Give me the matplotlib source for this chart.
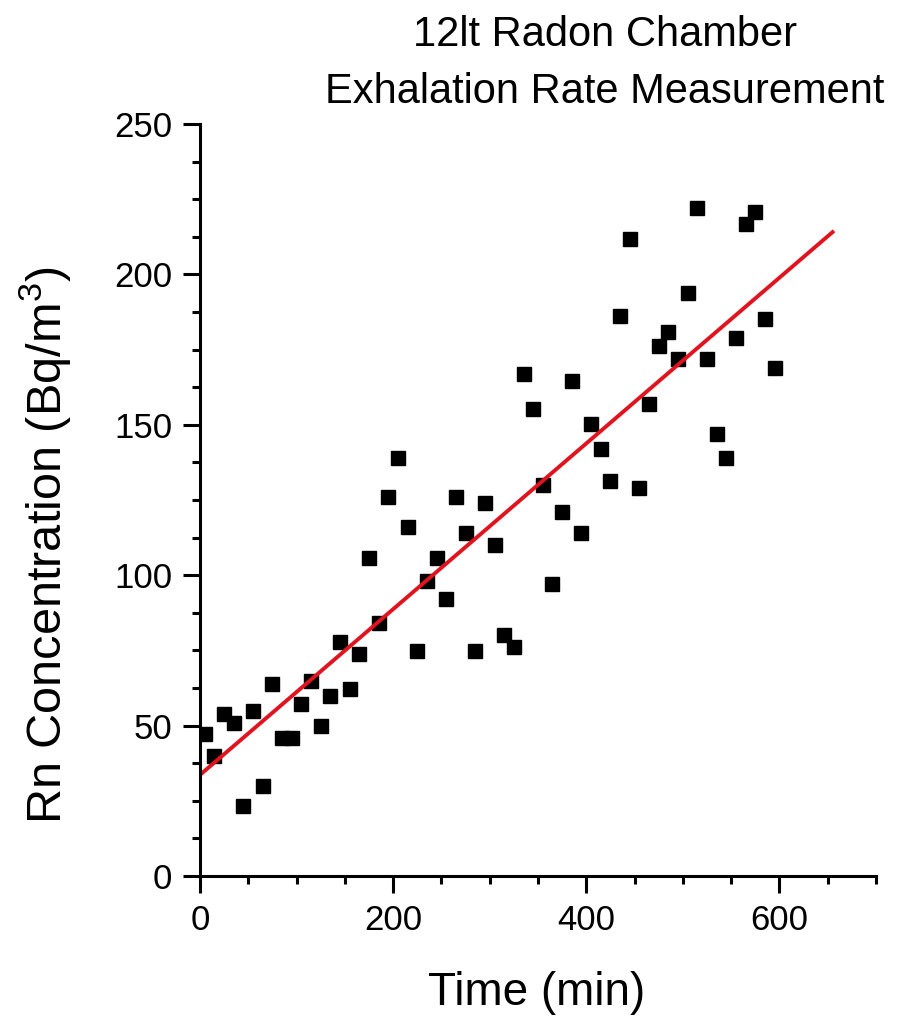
import matplotlib
matplotlib.use("Agg")
import matplotlib.pyplot as plt
from matplotlib.ticker import MultipleLocator

plt.rcParams['font.family'] = ['Liberation Sans', 'DejaVu Sans']
plt.rcParams['mathtext.fontset'] = 'custom'
plt.rcParams['mathtext.rm'] = 'Liberation Sans'
plt.rcParams['mathtext.it'] = 'Liberation Sans'

# measured data (min, Bq/m3)
time_min = [5, 15, 25, 35, 45, 55, 65, 75, 85, 95,
            105, 115, 125, 135, 145, 155, 165, 175, 185, 195,
            205, 215, 225, 235, 245, 255, 265, 275, 285, 295,
            305, 315, 325, 335, 345, 355, 365, 375, 385, 395,
            405, 415, 425, 435, 445, 455, 465, 475, 485, 495,
            505, 515, 525, 535, 545, 555, 565, 575, 585, 595]
rn_conc = [47.2, 39.9, 53.9, 51.0, 23.3, 55.0, 30.0, 63.8, 46.0, 46.0,
           57.1, 64.9, 50.0, 59.8, 77.8, 62.1, 73.8, 105.8, 84.0, 126.1,
           139.1, 116.1, 74.9, 98.0, 105.8, 92.0, 126.1, 113.9, 74.9, 123.9,
           110.1, 80.1, 76.0, 166.9, 155.3, 130.0, 97.0, 120.9, 164.6, 113.9,
           150.3, 142.0, 131.3, 186.2, 211.8, 129.1, 156.9, 176.1, 181.0, 172.0,
           193.9, 222.1, 172.0, 146.9, 139.1, 178.8, 216.9, 220.8, 185.2, 169.0]

# linear fit shown in red
fit_intercept = 33.6
fit_slope = 0.2755
fit_range = [0, 655]

fig = plt.figure(figsize=(9.09, 10.18), dpi=100)
ax = fig.add_axes([0.22, 0.1395, 0.7437, 0.7387])

ax.plot(time_min, rn_conc, 's', color='black', markersize=10, linestyle='none')
fit_y = [fit_intercept + fit_slope * t for t in fit_range]
ax.plot(fit_range, fit_y, color='#e0141e', lw=2.8)

ax.set_xlim(0, 700)
ax.set_ylim(0, 250)
ax.xaxis.set_major_locator(MultipleLocator(200))
ax.xaxis.set_minor_locator(MultipleLocator(50))
ax.yaxis.set_major_locator(MultipleLocator(50))
ax.yaxis.set_minor_locator(MultipleLocator(12.5))

for side in ['top', 'right']:
    ax.spines[side].set_visible(False)
for side in ['left', 'bottom']:
    ax.spines[side].set_linewidth(2.2)

ax.tick_params(which='major', direction='out', length=12, width=2.2, labelsize=25, pad=8)
ax.tick_params(which='minor', direction='out', length=6, width=2.2)

fig.text(605 / 909, 1 - 35 / 1018, '12lt Radon Chamber', ha='center', va='center', fontsize=30)
fig.text(605 / 909, 1 - 92 / 1018, 'Exhalation Rate Measurement', ha='center', va='center', fontsize=30)
fig.text(537 / 909, 1 - 993 / 1018, 'Time (min)', ha='center', va='center', fontsize=33)
fig.text(45 / 909, 1 - 545 / 1018, 'Rn Concentration (Bq/m$^{3}$)', ha='center', va='center',
         rotation=90, fontsize=35)

fig.savefig('out.png', dpi=100)
plt.close(fig)
